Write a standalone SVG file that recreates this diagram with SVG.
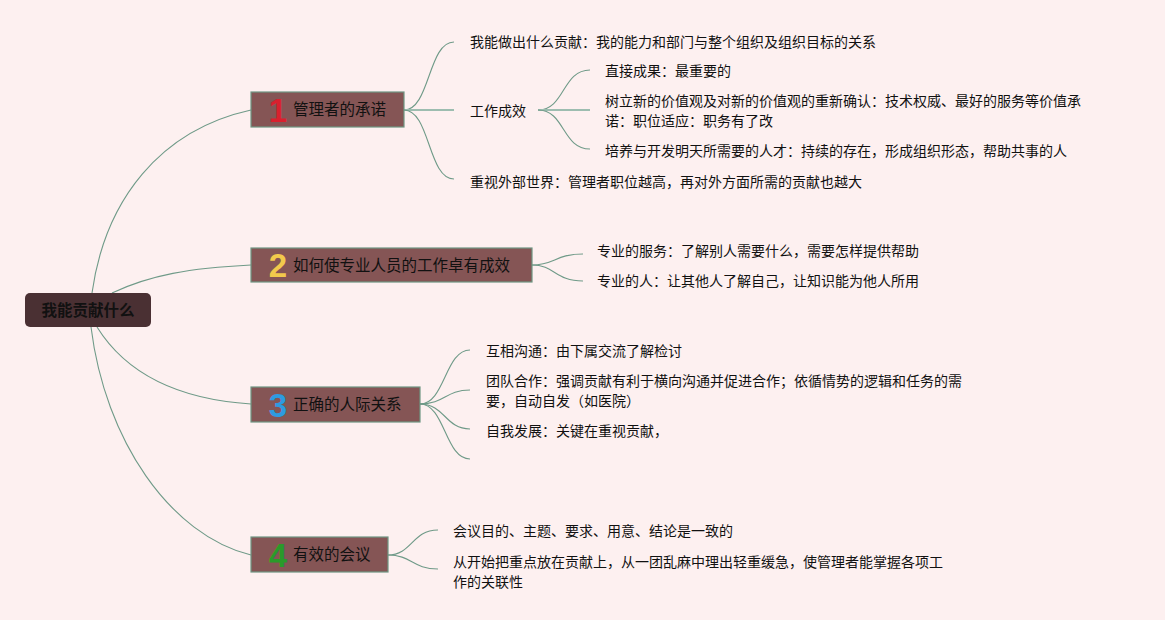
<svg xmlns="http://www.w3.org/2000/svg" width="1165" height="620" viewBox="0 0 1165 620">
<style>
.t{font-family:"Noto Sans CJK SC","Liberation Sans",sans-serif;font-size:14px;fill:#111}
.nt{font-family:"Noto Sans CJK SC","Liberation Sans",sans-serif;font-size:15.5px;fill:#111}
.num{font-family:"Liberation Sans",sans-serif;font-size:33px;font-weight:bold}
.box{fill:#855555;stroke:#6f9683;stroke-width:1.2}
.c{fill:none;stroke:#6f9a88;stroke-width:1.1}
.h{fill:none;stroke:#9dbdb0;stroke-width:2}
</style>
<rect width="1165" height="620" fill="#fdf0f0"/>
<g id="connectors">
<path class="c" d="M92,293 C105,200 160,130 251,110"/>
<path class="c" d="M112,293 C150,275 190,268 251,265"/>
<path class="c" d="M97,327 C130,380 190,400 251,404"/>
<path class="c" d="M91,327 C105,440 170,535 251,555"/>
<path class="c" d="M404,110 C430,110 428,42 454,42"/>
<path class="h" d="M404,110 L454,110"/>
<path class="c" d="M404,110 C430,110 428,179 454,179"/>
<path class="c" d="M538,110 C565,110 562,70 590,70"/>
<path class="h" d="M538,110 L590,110"/>
<path class="c" d="M538,110 C565,110 562,149 590,149"/>
<path class="c" d="M532,265 C555,265 555,254 583,254"/>
<path class="c" d="M532,265 C555,265 555,281 583,281"/>
<path class="c" d="M420,404 C445,404 445,350 470,350"/>
<path class="c" d="M420,404 C445,404 445,390 470,390"/>
<path class="c" d="M420,404 C445,404 445,429 470,429"/>
<path class="c" d="M420,404 C445,404 445,459 470,459"/>
<path class="c" d="M388,555 C412,555 412,530 438,530"/>
<path class="c" d="M388,555 C412,555 412,569 438,569"/>
</g>
<g id="root">
<rect x="25" y="293" width="126" height="34" rx="5" fill="#4a3033"/>
<text x="88" y="316" text-anchor="middle" class="nt" font-weight="bold">我能贡献什么</text>
</g>
<g id="b1">
<rect class="box" x="251" y="92" width="153" height="35"/>
<text class="num" x="278" y="122" text-anchor="middle" fill="#d9202e">1</text>
<text class="nt" x="293" y="115">管理者的承诺</text>
</g>
<g id="b2">
<rect class="box" x="251" y="248" width="281" height="34"/>
<text class="num" x="278" y="277" text-anchor="middle" fill="#f2c94c">2</text>
<text class="nt" x="293" y="271">如何使专业人员的工作卓有成效</text>
</g>
<g id="b3">
<rect class="box" x="251" y="387" width="169" height="35"/>
<text class="num" x="278" y="417" text-anchor="middle" fill="#2d9be0">3</text>
<text class="nt" x="293" y="410">正确的人际关系</text>
</g>
<g id="b4">
<rect class="box" x="251" y="537" width="137" height="35"/>
<text class="num" x="278" y="567" text-anchor="middle" fill="#2a9a2a">4</text>
<text class="nt" x="293" y="560">有效的会议</text>
</g>
<g id="b1-children">
<text class="t" x="470" y="47">我能做出什么贡献：我的能力和部门与整个组织及组织目标的关系</text>
<text class="t" x="470" y="116">工作成效</text>
<text class="t" x="470" y="187">重视外部世界：管理者职位越高，再对外方面所需的贡献也越大</text>
<text class="t" x="605" y="76">直接成果：最重要的</text>
<text class="t" x="605" y="106">树立新的价值观及对新的价值观的重新确认：技术权威、最好的服务等价值承</text>
<text class="t" x="605" y="126">诺：职位适应：职务有了改</text>
<text class="t" x="605" y="156">培养与开发明天所需要的人才：持续的存在，形成组织形态，帮助共事的人</text>
</g>
<g id="b2-children">
<text class="t" x="597" y="256">专业的服务：了解别人需要什么，需要怎样提供帮助</text>
<text class="t" x="597" y="286">专业的人：让其他人了解自己，让知识能为他人所用</text>
</g>
<g id="b3-children">
<text class="t" x="486" y="356">互相沟通：由下属交流了解检讨</text>
<text class="t" x="486" y="386">团队合作：强调贡献有利于横向沟通并促进合作；依循情势的逻辑和任务的需</text>
<text class="t" x="486" y="406">要，自动自发（如医院）</text>
<text class="t" x="486" y="436">自我发展：关键在重视贡献，</text>
</g>
<g id="b4-children">
<text class="t" x="453" y="536">会议目的、主题、要求、用意、结论是一致的</text>
<text class="t" x="453" y="567">从开始把重点放在贡献上，从一团乱麻中理出轻重缓急，使管理者能掌握各项工</text>
<text class="t" x="453" y="587">作的关联性</text>
</g>
</svg>
